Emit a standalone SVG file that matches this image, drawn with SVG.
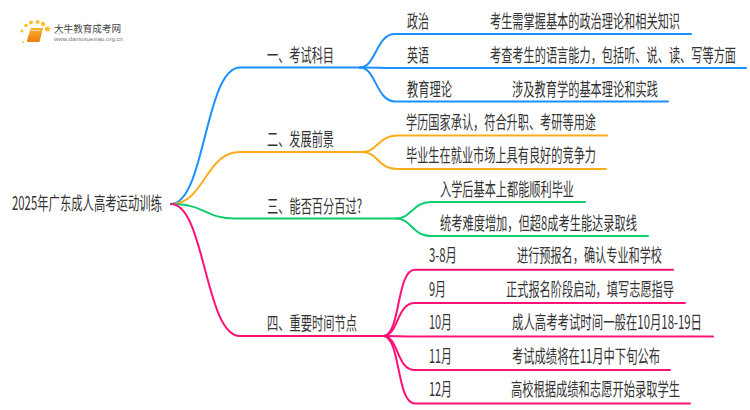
<svg xmlns="http://www.w3.org/2000/svg" width="750" height="410" viewBox="0 0 750 410">
<defs>
<style>
text{font-family:"Noto Sans CJK SC","Liberation Sans",sans-serif;fill:#333;font-size:11.200px}
.c{fill:none;stroke-width:2;stroke-linecap:round}
.b{stroke:#1a90ff}.o{stroke:#fbac1c}.g{stroke:#10cc70}.p{stroke:#ff1176}
.d{fill:#fbc02d;stroke:none}
</style>
<linearGradient id="bk" x1="0" y1="0" x2="0" y2="1"><stop offset="0" stop-color="#fbb02e"/><stop offset="1" stop-color="#ee7d12"/></linearGradient>
<linearGradient id="fd" x1="0" y1="0" x2="1" y2="0"><stop offset="0" stop-color="#ddd"/><stop offset="1" stop-color="#fff"/></linearGradient>
</defs>
<rect width="750" height="410" fill="#fff"/>
<g id="logo">
<circle class="d" cx="23" cy="42" r="1"/><circle class="d" cx="22" cy="31" r="1.500"/><circle class="d" cx="26" cy="25.500" r="1.800"/><circle class="d" cx="31" cy="22.500" r="2"/><circle class="d" cx="37.500" cy="22" r="2"/><circle class="d" cx="43" cy="24" r="2.200"/><circle class="d" cx="47.500" cy="29" r="2.500"/>
<path d="M31 28H43L39.500 42H28Q26.500 42 27 40Z" fill="url(#bk)"/>
<path d="M31 30.500H40.500" stroke="#fde2a8" stroke-width="1" fill="none"/>
<text x="54" y="32" textLength="67" lengthAdjust="spacingAndGlyphs" style="font-size:9.600px;fill:#444">大牛教育成考网</text>
<rect x="54" y="33" width="80" height="1" fill="url(#fd)"/>
<text x="54" y="41" textLength="69" lengthAdjust="spacingAndGlyphs" style="font-size:6px;fill:#777;font-family:'Liberation Sans',sans-serif">www.daniuxuexiao.org.cn</text>
</g>
<g id="connectors">
<path class="c b" d="M171 204C205 204 205 67.500 240 67.500H360"/>
<path class="c b" d="M360 67.500C376 67.500 376 34 395 34H691"/>
<path class="c b" d="M360 67.500C376 67.500 380 68 395 68H746"/>
<path class="c b" d="M360 67.500C376 67.500 376 101.500 395 101.500H668"/>
<path class="c o" d="M171 204C205 204 205 152 240 152H362"/>
<path class="c o" d="M362 152C378 152 378 135.500 397 135.500H607"/>
<path class="c o" d="M362 152C378 152 378 169 397 169H606"/>
<path class="c g" d="M171 204C205 204 205 218.500 235 218.500H396"/>
<path class="c g" d="M396 218.500C412 218.500 412 202 431 202H585"/>
<path class="c g" d="M396 218.500C412 218.500 412 236 431 236H648"/>
<path class="c p" d="M171 204C205 204 205 336 240 336H383"/>
<path class="c p" d="M383 336C401 336 396 269.700 415 269.700H673"/>
<path class="c p" d="M383 336C399 336 396 303 415 303H685"/>
<path class="c p" d="M383 336C398 336 400 336.500 415 336.500H713"/>
<path class="c p" d="M383 336C399 336 396 370 415 370H670"/>
<path class="c p" d="M383 336C401 336 396 403.500 415 403.500H690"/>
</g>
<g id="root"><text transform="translate(12 210) scale(1 1.650)" textLength="150" lengthAdjust="spacingAndGlyphs">2025年广东成人高考运动训练</text></g>
<g id="n1"><text transform="translate(267 62) scale(1 1.650)" textLength="67" lengthAdjust="spacingAndGlyphs">一、考试科目</text></g>
<g id="n1a"><text transform="translate(407 28) scale(1 1.650)" textLength="22" lengthAdjust="spacingAndGlyphs">政治</text><text transform="translate(490 28) scale(1 1.650)" textLength="190" lengthAdjust="spacingAndGlyphs">考生需掌握基本的政治理论和相关知识</text></g>
<g id="n1b"><text transform="translate(407 62) scale(1 1.650)" textLength="22" lengthAdjust="spacingAndGlyphs">英语</text><text transform="translate(490 62) scale(1 1.650)" textLength="246" lengthAdjust="spacingAndGlyphs">考查考生的语言能力，包括听、说、读、写等方面</text></g>
<g id="n1c"><text transform="translate(407 96) scale(1 1.650)" textLength="45" lengthAdjust="spacingAndGlyphs">教育理论</text><text transform="translate(512 96) scale(1 1.650)" textLength="146" lengthAdjust="spacingAndGlyphs">涉及教育学的基本理论和实践</text></g>
<g id="n2"><text transform="translate(267 146) scale(1 1.650)" textLength="67" lengthAdjust="spacingAndGlyphs">二、发展前景</text></g>
<g id="n2a"><text transform="translate(406 129) scale(1 1.650)" textLength="190" lengthAdjust="spacingAndGlyphs">学历国家承认，符合升职、考研等用途</text></g>
<g id="n2b"><text transform="translate(406 162) scale(1 1.650)" textLength="190" lengthAdjust="spacingAndGlyphs">毕业生在就业市场上具有良好的竞争力</text></g>
<g id="n3"><text transform="translate(267 213) scale(1 1.650)" textLength="95" lengthAdjust="spacingAndGlyphs">三、能否百分百过?</text></g>
<g id="n3a"><text transform="translate(440 196) scale(1 1.650)" textLength="134" lengthAdjust="spacingAndGlyphs">入学后基本上都能顺利毕业</text></g>
<g id="n3b"><text transform="translate(440 230) scale(1 1.650)" textLength="197" lengthAdjust="spacingAndGlyphs">统考难度增加，但超8成考生能达录取线</text></g>
<g id="n4"><text transform="translate(267 330) scale(1 1.650)" textLength="90" lengthAdjust="spacingAndGlyphs">四、重要时间节点</text></g>
<g id="n4a"><text transform="translate(429 262) scale(1 1.650)" textLength="28" lengthAdjust="spacingAndGlyphs">3-8月</text><text transform="translate(517 262) scale(1 1.650)" textLength="145" lengthAdjust="spacingAndGlyphs">进行预报名，确认专业和学校</text></g>
<g id="n4b"><text transform="translate(429 296) scale(1 1.650)" textLength="17" lengthAdjust="spacingAndGlyphs">9月</text><text transform="translate(506 296) scale(1 1.650)" textLength="168" lengthAdjust="spacingAndGlyphs">正式报名阶段启动，填写志愿指导</text></g>
<g id="n4c"><text transform="translate(429 329) scale(1 1.650)" textLength="23" lengthAdjust="spacingAndGlyphs">10月</text><text transform="translate(512 329) scale(1 1.650)" textLength="190" lengthAdjust="spacingAndGlyphs">成人高考考试时间一般在10月18-19日</text></g>
<g id="n4d"><text transform="translate(429 363) scale(1 1.650)" textLength="23" lengthAdjust="spacingAndGlyphs">11月</text><text transform="translate(512 363) scale(1 1.650)" textLength="148" lengthAdjust="spacingAndGlyphs">考试成绩将在11月中下旬公布</text></g>
<g id="n4e"><text transform="translate(429 396) scale(1 1.650)" textLength="23" lengthAdjust="spacingAndGlyphs">12月</text><text transform="translate(511 396) scale(1 1.650)" textLength="169" lengthAdjust="spacingAndGlyphs">高校根据成绩和志愿开始录取学生</text></g>
</svg>
